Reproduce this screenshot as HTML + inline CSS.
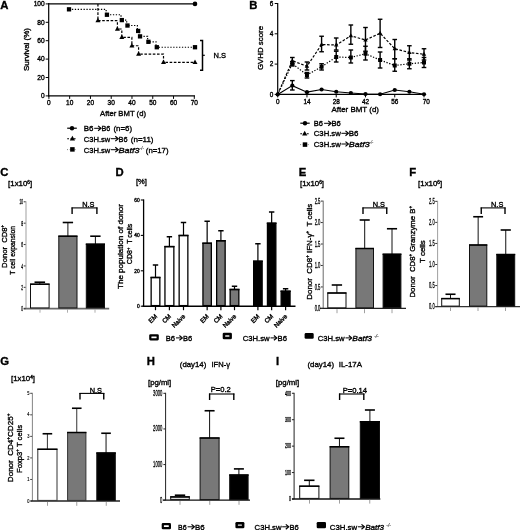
<!DOCTYPE html>
<html><head><meta charset="utf-8"><title>Figure</title>
<style>
html,body{margin:0;padding:0;background:#fff;}
body{width:520px;height:530px;overflow:hidden;font-family:"Liberation Sans",sans-serif;}
svg{display:block;filter:grayscale(1) blur(0.35px);}
svg text{font-family:"Liberation Sans",sans-serif;fill:#000;stroke:#000;stroke-width:0.35px;}
</style></head><body>
<svg width="520" height="530" viewBox="0 0 520 530">
<rect x="0" y="0" width="520" height="530" fill="#fff"/>
<text x="0.2" y="8.6" font-size="11.3" text-anchor="start" font-weight="bold" >A</text>
<line x1="48.7" y1="3" x2="48.7" y2="96.4" stroke="#000" stroke-width="1.2" stroke-linecap="butt"/>
<line x1="48.2" y1="95.9" x2="195" y2="95.9" stroke="#000" stroke-width="1.2" stroke-linecap="butt"/>
<line x1="45.7" y1="95.9" x2="48.7" y2="95.9" stroke="#000" stroke-width="1" stroke-linecap="butt"/>
<text x="44.7" y="98.25" font-size="6.6" text-anchor="end" >0</text>
<line x1="45.7" y1="77.5" x2="48.7" y2="77.5" stroke="#000" stroke-width="1" stroke-linecap="butt"/>
<text x="44.7" y="79.85" font-size="6.6" text-anchor="end" >20</text>
<line x1="45.7" y1="59.1" x2="48.7" y2="59.1" stroke="#000" stroke-width="1" stroke-linecap="butt"/>
<text x="44.7" y="61.45" font-size="6.6" text-anchor="end" >40</text>
<line x1="45.7" y1="40.7" x2="48.7" y2="40.7" stroke="#000" stroke-width="1" stroke-linecap="butt"/>
<text x="44.7" y="43.050000000000004" font-size="6.6" text-anchor="end" >60</text>
<line x1="45.7" y1="22.299999999999997" x2="48.7" y2="22.299999999999997" stroke="#000" stroke-width="1" stroke-linecap="butt"/>
<text x="44.7" y="24.65" font-size="6.6" text-anchor="end" >80</text>
<line x1="45.7" y1="3.9000000000000057" x2="48.7" y2="3.9000000000000057" stroke="#000" stroke-width="1" stroke-linecap="butt"/>
<text x="44.7" y="6.250000000000005" font-size="6.6" text-anchor="end" >100</text>
<line x1="48.9" y1="95.9" x2="48.9" y2="98.9" stroke="#000" stroke-width="1" stroke-linecap="butt"/>
<text x="48.9" y="105.10000000000001" font-size="6.5" text-anchor="middle" >0</text>
<line x1="69.67" y1="95.9" x2="69.67" y2="98.9" stroke="#000" stroke-width="1" stroke-linecap="butt"/>
<text x="69.67" y="105.10000000000001" font-size="6.5" text-anchor="middle" >10</text>
<line x1="90.44" y1="95.9" x2="90.44" y2="98.9" stroke="#000" stroke-width="1" stroke-linecap="butt"/>
<text x="90.44" y="105.10000000000001" font-size="6.5" text-anchor="middle" >20</text>
<line x1="111.21000000000001" y1="95.9" x2="111.21000000000001" y2="98.9" stroke="#000" stroke-width="1" stroke-linecap="butt"/>
<text x="111.21000000000001" y="105.10000000000001" font-size="6.5" text-anchor="middle" >30</text>
<line x1="131.98" y1="95.9" x2="131.98" y2="98.9" stroke="#000" stroke-width="1" stroke-linecap="butt"/>
<text x="131.98" y="105.10000000000001" font-size="6.5" text-anchor="middle" >40</text>
<line x1="152.75" y1="95.9" x2="152.75" y2="98.9" stroke="#000" stroke-width="1" stroke-linecap="butt"/>
<text x="152.75" y="105.10000000000001" font-size="6.5" text-anchor="middle" >50</text>
<line x1="173.52" y1="95.9" x2="173.52" y2="98.9" stroke="#000" stroke-width="1" stroke-linecap="butt"/>
<text x="173.52" y="105.10000000000001" font-size="6.5" text-anchor="middle" >60</text>
<line x1="194.29" y1="95.9" x2="194.29" y2="98.9" stroke="#000" stroke-width="1" stroke-linecap="butt"/>
<text x="194.29" y="105.10000000000001" font-size="6.5" text-anchor="middle" >70</text>
<text x="123" y="115.5" font-size="8" text-anchor="middle" textLength="46" lengthAdjust="spacingAndGlyphs" >After BMT (d)</text>
<text x="29" y="49.5" font-size="8" text-anchor="middle" transform="rotate(-90 29 49.5)" textLength="43" lengthAdjust="spacingAndGlyphs" >Survival (%)</text>
<line x1="48.7" y1="3.9000000000000057" x2="195" y2="3.9000000000000057" stroke="#000" stroke-width="1.2" stroke-linecap="butt"/>
<circle cx="195" cy="3.9000000000000057" r="2.3" fill="#000"/>
<polyline points="69.0215,9.328000000000003 106.141,9.328000000000003 106.141,14.756 121.0155,14.756 121.0155,20.092 126.67200000000001,20.092 126.67200000000001,25.519999999999996 137.3565,25.519999999999996 137.3565,30.948000000000008 139.24200000000002,30.948000000000008 139.24200000000002,36.376 147.622,36.376 147.622,41.80400000000001 156.002,41.80400000000001 156.002,47.232000000000006 195,47.232000000000006" fill="none" stroke="#000" stroke-width="1.2" stroke-dasharray="1.3 1.6"/>
<rect x="66.8715" y="7.178000000000003" width="4.3" height="4.3" fill="#000"/>
<rect x="104.791" y="12.606" width="4.3" height="4.3" fill="#000"/>
<rect x="119.6655" y="17.942" width="4.3" height="4.3" fill="#000"/>
<rect x="125.322" y="23.369999999999997" width="4.3" height="4.3" fill="#000"/>
<rect x="136.00650000000002" y="28.79800000000001" width="4.3" height="4.3" fill="#000"/>
<rect x="137.89200000000002" y="34.226" width="4.3" height="4.3" fill="#000"/>
<rect x="146.27200000000002" y="39.65400000000001" width="4.3" height="4.3" fill="#000"/>
<rect x="154.65200000000002" y="45.08200000000001" width="4.3" height="4.3" fill="#000"/>
<rect x="192.85" y="45.08200000000001" width="4.3" height="4.3" fill="#000"/>
<polyline points="97.9325,3.9000000000000057 97.9325,20.644000000000005 117.416,20.644000000000005 117.416,29.016000000000005 121.8155,29.016000000000005 121.8155,37.388000000000005 131.87150000000003,37.388000000000005 131.87150000000003,45.760000000000005 138.5755,45.760000000000005 138.5755,54.040000000000006 163.50600000000003,54.040000000000006 163.50600000000003,62.412000000000006 195,62.412000000000006" fill="none" stroke="#000" stroke-width="1.2" stroke-dasharray="2.6 1.6"/>
<polygon points="97.9325,17.844000000000005 95.4325,22.344000000000005 100.4325,22.344000000000005" fill="#000"/>
<polygon points="117.416,26.216000000000005 114.916,30.716000000000005 119.916,30.716000000000005" fill="#000"/>
<polygon points="121.8155,34.58800000000001 119.3155,39.08800000000001 124.3155,39.08800000000001" fill="#000"/>
<polygon points="131.87150000000003,42.96000000000001 129.37150000000003,47.46000000000001 134.37150000000003,47.46000000000001" fill="#000"/>
<polygon points="138.5755,51.24000000000001 136.0755,55.74000000000001 141.0755,55.74000000000001" fill="#000"/>
<polygon points="163.50600000000003,59.61200000000001 161.00600000000003,64.11200000000001 166.00600000000003,64.11200000000001" fill="#000"/>
<polygon points="195,59.61200000000001 192.5,64.11200000000001 197.5,64.11200000000001" fill="#000"/>
<polyline points="200,40.5 202.5,40.5 202.5,70.2 200,70.2" fill="none" stroke="#000" stroke-width="1.5"/>
<line x1="202.5" y1="55.3" x2="204.8" y2="55.3" stroke="#000" stroke-width="1.2" stroke-linecap="butt"/>
<text x="213.5" y="58" font-size="8" text-anchor="start" textLength="12.5" lengthAdjust="spacingAndGlyphs" >N.S</text>
<line x1="67.2" y1="128.2" x2="76.8" y2="128.2" stroke="#000" stroke-width="1.2" stroke-linecap="butt"/>
<circle cx="72" cy="128.2" r="2.2" fill="#000"/>
<line x1="67.2" y1="138.7" x2="76.8" y2="138.7" stroke="#000" stroke-width="1.1" stroke-dasharray="1.8 1.5" stroke-linecap="butt"/>
<polygon points="72.4,135.79999999999998 69.80000000000001,140.48 75.0,140.48" fill="#000"/>
<line x1="67.2" y1="149.6" x2="76.8" y2="149.6" stroke="#666" stroke-width="1" stroke-dasharray="0.8 1.7" stroke-linecap="butt"/>
<rect x="70.15" y="147.15" width="4.5" height="4.5" fill="#000"/>
<text x="83.8" y="131.2" font-size="8" text-anchor="start" textLength="9.7" lengthAdjust="spacingAndGlyphs" >B6</text>
<line x1="94.2" y1="128.29999999999998" x2="100.4" y2="128.29999999999998" stroke="#000" stroke-width="1.0" stroke-linecap="butt"/>
<polyline points="98.1,125.89999999999998 101,128.29999999999998 98.1,130.7" fill="none" stroke="#000" stroke-width="1.2" stroke-linejoin="miter"/>
<text x="101.5" y="131.2" font-size="8" text-anchor="start" textLength="8.8" lengthAdjust="spacingAndGlyphs" >B6</text>
<text x="113.5" y="131.2" font-size="8" text-anchor="start" textLength="18.5" lengthAdjust="spacingAndGlyphs" >(n=6)</text>
<text x="83.8" y="141.6" font-size="8" text-anchor="start" textLength="26.5" lengthAdjust="spacingAndGlyphs" >C3H.sw</text>
<line x1="111" y1="138.7" x2="117.60000000000001" y2="138.7" stroke="#000" stroke-width="1.0" stroke-linecap="butt"/>
<polyline points="115.3,136.29999999999998 118.2,138.7 115.3,141.1" fill="none" stroke="#000" stroke-width="1.2" stroke-linejoin="miter"/>
<text x="118.6" y="141.6" font-size="8" text-anchor="start" textLength="9.0" lengthAdjust="spacingAndGlyphs" >B6</text>
<text x="130.8" y="141.6" font-size="8" text-anchor="start" textLength="22.7" lengthAdjust="spacingAndGlyphs" >(n=11)</text>
<text x="83.8" y="152.6" font-size="8" text-anchor="start" textLength="26.5" lengthAdjust="spacingAndGlyphs" >C3H.sw</text>
<line x1="111" y1="149.7" x2="117.60000000000001" y2="149.7" stroke="#000" stroke-width="1.0" stroke-linecap="butt"/>
<polyline points="115.3,147.29999999999998 118.2,149.7 115.3,152.1" fill="none" stroke="#000" stroke-width="1.2" stroke-linejoin="miter"/>
<text x="118.6" y="152.6" font-size="8" text-anchor="start" font-style="italic" textLength="21.0" lengthAdjust="spacingAndGlyphs" >Batf3</text>
<text x="140" y="149.79999999999998" font-size="4.6" text-anchor="start" font-style="italic" textLength="3.8" lengthAdjust="spacingAndGlyphs" style="stroke-width:0.1px;fill:#222">-/-</text>
<text x="145.8" y="152.6" font-size="8" text-anchor="start" textLength="22.7" lengthAdjust="spacingAndGlyphs" >(n=17)</text>
<text x="249.3" y="8.6" font-size="11.3" text-anchor="start" font-weight="bold" >B</text>
<line x1="277.7" y1="3" x2="277.7" y2="94.9" stroke="#000" stroke-width="1.2" stroke-linecap="butt"/>
<line x1="277.2" y1="94.4" x2="425" y2="94.4" stroke="#000" stroke-width="1.2" stroke-linecap="butt"/>
<line x1="274.7" y1="94.4" x2="277.7" y2="94.4" stroke="#000" stroke-width="1" stroke-linecap="butt"/>
<text x="273.2" y="96.7" font-size="6.4" text-anchor="end" >0</text>
<line x1="274.7" y1="64.10000000000001" x2="277.7" y2="64.10000000000001" stroke="#000" stroke-width="1" stroke-linecap="butt"/>
<text x="273.2" y="66.4" font-size="6.4" text-anchor="end" >2</text>
<line x1="274.7" y1="33.800000000000004" x2="277.7" y2="33.800000000000004" stroke="#000" stroke-width="1" stroke-linecap="butt"/>
<text x="273.2" y="36.1" font-size="6.4" text-anchor="end" >4</text>
<line x1="274.7" y1="3.5" x2="277.7" y2="3.5" stroke="#000" stroke-width="1" stroke-linecap="butt"/>
<text x="273.2" y="5.8" font-size="6.4" text-anchor="end" >6</text>
<line x1="277.7" y1="94.4" x2="277.7" y2="97.4" stroke="#000" stroke-width="1" stroke-linecap="butt"/>
<text x="277.7" y="104.0" font-size="6.4" text-anchor="middle" >0</text>
<line x1="306.96" y1="94.4" x2="306.96" y2="97.4" stroke="#000" stroke-width="1" stroke-linecap="butt"/>
<text x="306.96" y="104.0" font-size="6.4" text-anchor="middle" >14</text>
<line x1="336.21999999999997" y1="94.4" x2="336.21999999999997" y2="97.4" stroke="#000" stroke-width="1" stroke-linecap="butt"/>
<text x="336.21999999999997" y="104.0" font-size="6.4" text-anchor="middle" >28</text>
<line x1="365.48" y1="94.4" x2="365.48" y2="97.4" stroke="#000" stroke-width="1" stroke-linecap="butt"/>
<text x="365.48" y="104.0" font-size="6.4" text-anchor="middle" >42</text>
<line x1="394.74" y1="94.4" x2="394.74" y2="97.4" stroke="#000" stroke-width="1" stroke-linecap="butt"/>
<text x="394.74" y="104.0" font-size="6.4" text-anchor="middle" >56</text>
<line x1="424.0" y1="94.4" x2="424.0" y2="97.4" stroke="#000" stroke-width="1" stroke-linecap="butt"/>
<text x="426.2" y="104.0" font-size="6.4" text-anchor="middle" >70</text>
<text x="355.2" y="111.5" font-size="8" text-anchor="middle" textLength="47.5" lengthAdjust="spacingAndGlyphs" >After BMT (d)</text>
<text x="262.5" y="48" font-size="8" text-anchor="middle" transform="rotate(-90 262.5 48)" textLength="44" lengthAdjust="spacingAndGlyphs" >GVHD score</text>
<polyline points="277.7,94.4 292.33,60.75 306.96,66.25 321.59,44.5 336.21999999999997,45 350.84999999999997,35.75 365.48,40 380.11,33.25 394.74,48.75 409.37,52.5 424.0,54.25" fill="none" stroke="#000" stroke-width="1.2" stroke-dasharray="2.6 1.6"/>
<line x1="292.33" y1="57.5" x2="292.33" y2="63.75" stroke="#000" stroke-width="1.4" stroke-linecap="butt"/>
<line x1="290.03" y1="57.5" x2="294.63" y2="57.5" stroke="#000" stroke-width="1.4" stroke-linecap="butt"/>
<line x1="290.03" y1="63.75" x2="294.63" y2="63.75" stroke="#000" stroke-width="1.4" stroke-linecap="butt"/>
<polygon points="292.33,58.25 290.13,62.21 294.53,62.21" fill="#000"/>
<line x1="306.96" y1="62" x2="306.96" y2="70" stroke="#000" stroke-width="1.4" stroke-linecap="butt"/>
<line x1="304.65999999999997" y1="62" x2="309.26" y2="62" stroke="#000" stroke-width="1.4" stroke-linecap="butt"/>
<line x1="304.65999999999997" y1="70" x2="309.26" y2="70" stroke="#000" stroke-width="1.4" stroke-linecap="butt"/>
<polygon points="306.96,63.75 304.76,67.71000000000001 309.15999999999997,67.71000000000001" fill="#000"/>
<line x1="321.59" y1="36.25" x2="321.59" y2="51.75" stroke="#000" stroke-width="1.4" stroke-linecap="butt"/>
<line x1="319.28999999999996" y1="36.25" x2="323.89" y2="36.25" stroke="#000" stroke-width="1.4" stroke-linecap="butt"/>
<line x1="319.28999999999996" y1="51.75" x2="323.89" y2="51.75" stroke="#000" stroke-width="1.4" stroke-linecap="butt"/>
<polygon points="321.59,42.0 319.39,45.96 323.78999999999996,45.96" fill="#000"/>
<line x1="336.21999999999997" y1="38" x2="336.21999999999997" y2="50" stroke="#000" stroke-width="1.4" stroke-linecap="butt"/>
<line x1="333.91999999999996" y1="38" x2="338.52" y2="38" stroke="#000" stroke-width="1.4" stroke-linecap="butt"/>
<line x1="333.91999999999996" y1="50" x2="338.52" y2="50" stroke="#000" stroke-width="1.4" stroke-linecap="butt"/>
<polygon points="336.21999999999997,42.5 334.02,46.46 338.41999999999996,46.46" fill="#000"/>
<line x1="350.84999999999997" y1="25" x2="350.84999999999997" y2="44.25" stroke="#000" stroke-width="1.4" stroke-linecap="butt"/>
<line x1="348.54999999999995" y1="25" x2="353.15" y2="25" stroke="#000" stroke-width="1.4" stroke-linecap="butt"/>
<line x1="348.54999999999995" y1="44.25" x2="353.15" y2="44.25" stroke="#000" stroke-width="1.4" stroke-linecap="butt"/>
<polygon points="350.84999999999997,33.25 348.65,37.21 353.04999999999995,37.21" fill="#000"/>
<line x1="365.48" y1="27.5" x2="365.48" y2="51.25" stroke="#000" stroke-width="1.4" stroke-linecap="butt"/>
<line x1="363.18" y1="27.5" x2="367.78000000000003" y2="27.5" stroke="#000" stroke-width="1.4" stroke-linecap="butt"/>
<line x1="363.18" y1="51.25" x2="367.78000000000003" y2="51.25" stroke="#000" stroke-width="1.4" stroke-linecap="butt"/>
<polygon points="365.48,37.5 363.28000000000003,41.46 367.68,41.46" fill="#000"/>
<line x1="380.11" y1="19.25" x2="380.11" y2="47.5" stroke="#000" stroke-width="1.4" stroke-linecap="butt"/>
<line x1="377.81" y1="19.25" x2="382.41" y2="19.25" stroke="#000" stroke-width="1.4" stroke-linecap="butt"/>
<line x1="377.81" y1="47.5" x2="382.41" y2="47.5" stroke="#000" stroke-width="1.4" stroke-linecap="butt"/>
<polygon points="380.11,30.750000000000004 377.91,34.71 382.31,34.71" fill="#000"/>
<line x1="394.74" y1="39.5" x2="394.74" y2="58.75" stroke="#000" stroke-width="1.4" stroke-linecap="butt"/>
<line x1="392.44" y1="39.5" x2="397.04" y2="39.5" stroke="#000" stroke-width="1.4" stroke-linecap="butt"/>
<line x1="392.44" y1="58.75" x2="397.04" y2="58.75" stroke="#000" stroke-width="1.4" stroke-linecap="butt"/>
<polygon points="394.74,46.25 392.54,50.21 396.94,50.21" fill="#000"/>
<line x1="409.37" y1="45.75" x2="409.37" y2="60" stroke="#000" stroke-width="1.4" stroke-linecap="butt"/>
<line x1="407.07" y1="45.75" x2="411.67" y2="45.75" stroke="#000" stroke-width="1.4" stroke-linecap="butt"/>
<line x1="407.07" y1="60" x2="411.67" y2="60" stroke="#000" stroke-width="1.4" stroke-linecap="butt"/>
<polygon points="409.37,50.0 407.17,53.96 411.57,53.96" fill="#000"/>
<line x1="424.0" y1="48.75" x2="424.0" y2="60" stroke="#000" stroke-width="1.4" stroke-linecap="butt"/>
<line x1="421.7" y1="48.75" x2="426.3" y2="48.75" stroke="#000" stroke-width="1.4" stroke-linecap="butt"/>
<line x1="421.7" y1="60" x2="426.3" y2="60" stroke="#000" stroke-width="1.4" stroke-linecap="butt"/>
<polygon points="424.0,51.75 421.8,55.71 426.2,55.71" fill="#000"/>
<polyline points="277.7,94.4 292.33,63.75 306.96,75 321.59,66.75 336.21999999999997,57 350.84999999999997,57.5 365.48,53.75 380.11,60 394.74,65.5 409.37,63.75 424.0,62.5" fill="none" stroke="#000" stroke-width="1.2" stroke-dasharray="1.3 1.6"/>
<line x1="292.33" y1="61.5" x2="292.33" y2="66" stroke="#000" stroke-width="1.4" stroke-linecap="butt"/>
<line x1="290.03" y1="61.5" x2="294.63" y2="61.5" stroke="#000" stroke-width="1.4" stroke-linecap="butt"/>
<line x1="290.03" y1="66" x2="294.63" y2="66" stroke="#000" stroke-width="1.4" stroke-linecap="butt"/>
<rect x="290.33" y="61.75" width="4" height="4" fill="#000"/>
<line x1="306.96" y1="72.5" x2="306.96" y2="78" stroke="#000" stroke-width="1.4" stroke-linecap="butt"/>
<line x1="304.65999999999997" y1="72.5" x2="309.26" y2="72.5" stroke="#000" stroke-width="1.4" stroke-linecap="butt"/>
<line x1="304.65999999999997" y1="78" x2="309.26" y2="78" stroke="#000" stroke-width="1.4" stroke-linecap="butt"/>
<rect x="304.96" y="73" width="4" height="4" fill="#000"/>
<line x1="321.59" y1="63.75" x2="321.59" y2="70" stroke="#000" stroke-width="1.4" stroke-linecap="butt"/>
<line x1="319.28999999999996" y1="63.75" x2="323.89" y2="63.75" stroke="#000" stroke-width="1.4" stroke-linecap="butt"/>
<line x1="319.28999999999996" y1="70" x2="323.89" y2="70" stroke="#000" stroke-width="1.4" stroke-linecap="butt"/>
<rect x="319.59" y="64.75" width="4" height="4" fill="#000"/>
<line x1="336.21999999999997" y1="51.25" x2="336.21999999999997" y2="62" stroke="#000" stroke-width="1.4" stroke-linecap="butt"/>
<line x1="333.91999999999996" y1="51.25" x2="338.52" y2="51.25" stroke="#000" stroke-width="1.4" stroke-linecap="butt"/>
<line x1="333.91999999999996" y1="62" x2="338.52" y2="62" stroke="#000" stroke-width="1.4" stroke-linecap="butt"/>
<rect x="334.21999999999997" y="55" width="4" height="4" fill="#000"/>
<line x1="350.84999999999997" y1="50" x2="350.84999999999997" y2="63" stroke="#000" stroke-width="1.4" stroke-linecap="butt"/>
<line x1="348.54999999999995" y1="50" x2="353.15" y2="50" stroke="#000" stroke-width="1.4" stroke-linecap="butt"/>
<line x1="348.54999999999995" y1="63" x2="353.15" y2="63" stroke="#000" stroke-width="1.4" stroke-linecap="butt"/>
<rect x="348.84999999999997" y="55.5" width="4" height="4" fill="#000"/>
<line x1="365.48" y1="46.25" x2="365.48" y2="60" stroke="#000" stroke-width="1.4" stroke-linecap="butt"/>
<line x1="363.18" y1="46.25" x2="367.78000000000003" y2="46.25" stroke="#000" stroke-width="1.4" stroke-linecap="butt"/>
<line x1="363.18" y1="60" x2="367.78000000000003" y2="60" stroke="#000" stroke-width="1.4" stroke-linecap="butt"/>
<rect x="363.48" y="51.75" width="4" height="4" fill="#000"/>
<line x1="380.11" y1="52" x2="380.11" y2="68" stroke="#000" stroke-width="1.4" stroke-linecap="butt"/>
<line x1="377.81" y1="52" x2="382.41" y2="52" stroke="#000" stroke-width="1.4" stroke-linecap="butt"/>
<line x1="377.81" y1="68" x2="382.41" y2="68" stroke="#000" stroke-width="1.4" stroke-linecap="butt"/>
<rect x="378.11" y="58" width="4" height="4" fill="#000"/>
<line x1="394.74" y1="58.75" x2="394.74" y2="71.25" stroke="#000" stroke-width="1.4" stroke-linecap="butt"/>
<line x1="392.44" y1="58.75" x2="397.04" y2="58.75" stroke="#000" stroke-width="1.4" stroke-linecap="butt"/>
<line x1="392.44" y1="71.25" x2="397.04" y2="71.25" stroke="#000" stroke-width="1.4" stroke-linecap="butt"/>
<rect x="392.74" y="63.5" width="4" height="4" fill="#000"/>
<line x1="409.37" y1="58.75" x2="409.37" y2="68.75" stroke="#000" stroke-width="1.4" stroke-linecap="butt"/>
<line x1="407.07" y1="58.75" x2="411.67" y2="58.75" stroke="#000" stroke-width="1.4" stroke-linecap="butt"/>
<line x1="407.07" y1="68.75" x2="411.67" y2="68.75" stroke="#000" stroke-width="1.4" stroke-linecap="butt"/>
<rect x="407.37" y="61.75" width="4" height="4" fill="#000"/>
<line x1="424.0" y1="57.5" x2="424.0" y2="67.5" stroke="#000" stroke-width="1.4" stroke-linecap="butt"/>
<line x1="421.7" y1="57.5" x2="426.3" y2="57.5" stroke="#000" stroke-width="1.4" stroke-linecap="butt"/>
<line x1="421.7" y1="67.5" x2="426.3" y2="67.5" stroke="#000" stroke-width="1.4" stroke-linecap="butt"/>
<rect x="422.0" y="60.5" width="4" height="4" fill="#000"/>
<polyline points="277.7,94.4 292.33,85.6 306.96,92.2 321.59,89.5 336.21999999999997,91.75 350.84999999999997,93 365.48,94 380.11,94.25 394.74,90 409.37,91.75 424.0,94.25" fill="none" stroke="#000" stroke-width="1.2"/>
<line x1="292.33" y1="80.6" x2="292.33" y2="90" stroke="#000" stroke-width="1.4" stroke-linecap="butt"/>
<line x1="290.03" y1="80.6" x2="294.63" y2="80.6" stroke="#000" stroke-width="1.4" stroke-linecap="butt"/>
<line x1="290.03" y1="90" x2="294.63" y2="90" stroke="#000" stroke-width="1.4" stroke-linecap="butt"/>
<circle cx="277.7" cy="94.4" r="2.1" fill="#000"/>
<circle cx="292.33" cy="85.6" r="2.1" fill="#000"/>
<circle cx="306.96" cy="92.2" r="2.1" fill="#000"/>
<circle cx="321.59" cy="89.5" r="2.1" fill="#000"/>
<circle cx="336.21999999999997" cy="91.75" r="2.1" fill="#000"/>
<circle cx="350.84999999999997" cy="93" r="2.1" fill="#000"/>
<circle cx="365.48" cy="94" r="2.1" fill="#000"/>
<circle cx="380.11" cy="94.25" r="2.1" fill="#000"/>
<circle cx="394.74" cy="90" r="2.1" fill="#000"/>
<circle cx="409.37" cy="91.75" r="2.1" fill="#000"/>
<circle cx="424.0" cy="94.25" r="2.1" fill="#000"/>
<line x1="300.3" y1="123.2" x2="309.7" y2="123.2" stroke="#000" stroke-width="1.2" stroke-linecap="butt"/>
<circle cx="305" cy="123.2" r="2.2" fill="#000"/>
<line x1="300.3" y1="133.7" x2="309.7" y2="133.7" stroke="#000" stroke-width="1.1" stroke-dasharray="1.8 1.5" stroke-linecap="butt"/>
<polygon points="304.7,130.79999999999998 302.09999999999997,135.48 307.3,135.48" fill="#000"/>
<line x1="300.3" y1="144.6" x2="309.7" y2="144.6" stroke="#666" stroke-width="1" stroke-dasharray="0.8 1.7" stroke-linecap="butt"/>
<rect x="302.75" y="142.35" width="4.5" height="4.5" fill="#000"/>
<text x="313.8" y="126.2" font-size="8" text-anchor="start" textLength="9.2" lengthAdjust="spacingAndGlyphs" >B6</text>
<line x1="324.1" y1="123.3" x2="330.5" y2="123.3" stroke="#000" stroke-width="1.0" stroke-linecap="butt"/>
<polyline points="328.20000000000005,120.89999999999999 331.1,123.3 328.20000000000005,125.7" fill="none" stroke="#000" stroke-width="1.2" stroke-linejoin="miter"/>
<text x="331.5" y="126.2" font-size="8" text-anchor="start" textLength="9.3" lengthAdjust="spacingAndGlyphs" >B6</text>
<text x="313.8" y="136.2" font-size="8" text-anchor="start" textLength="27.0" lengthAdjust="spacingAndGlyphs" >C3H.sw</text>
<line x1="341.4" y1="133.29999999999998" x2="347.79999999999995" y2="133.29999999999998" stroke="#000" stroke-width="1.0" stroke-linecap="butt"/>
<polyline points="345.5,130.89999999999998 348.4,133.29999999999998 345.5,135.7" fill="none" stroke="#000" stroke-width="1.2" stroke-linejoin="miter"/>
<text x="348.8" y="136.2" font-size="8" text-anchor="start" textLength="9.7" lengthAdjust="spacingAndGlyphs" >B6</text>
<text x="313.8" y="146.9" font-size="8" text-anchor="start" textLength="27.0" lengthAdjust="spacingAndGlyphs" >C3H.sw</text>
<line x1="341.4" y1="144.0" x2="347.79999999999995" y2="144.0" stroke="#000" stroke-width="1.0" stroke-linecap="butt"/>
<polyline points="345.5,141.6 348.4,144.0 345.5,146.4" fill="none" stroke="#000" stroke-width="1.2" stroke-linejoin="miter"/>
<text x="348.8" y="146.9" font-size="8" text-anchor="start" font-style="italic" textLength="20.8" lengthAdjust="spacingAndGlyphs" >Batf3</text>
<text x="369.8" y="144.1" font-size="4.6" text-anchor="start" font-style="italic" textLength="3.5" lengthAdjust="spacingAndGlyphs" style="stroke-width:0.1px;fill:#222">-/-</text>
<text x="0.2" y="175.7" font-size="11.3" text-anchor="start" font-weight="bold" >C</text>
<text x="8.1" y="186.3" font-size="7.6" text-anchor="start" textLength="24" lengthAdjust="spacingAndGlyphs" >[1x10<tspan font-size="4.5" dy="-2.5">6</tspan><tspan dy="2.5">]</tspan></text>
<line x1="26" y1="201.3" x2="26" y2="308.7" stroke="#a8a8a8" stroke-width="1.1" stroke-linecap="butt"/>
<line x1="23.7" y1="308.7" x2="109.2" y2="308.7" stroke="#6a6a6a" stroke-width="1.7" stroke-linecap="butt"/>
<line x1="23.7" y1="308.7" x2="25.6" y2="308.7" stroke="#333" stroke-width="1" stroke-linecap="butt"/>
<text x="23" y="311.3134" font-size="7.3" text-anchor="end" textLength="1.8" lengthAdjust="spacingAndGlyphs" style="fill:#000;stroke:#000;stroke-width:0.3px">0</text>
<line x1="23.7" y1="287.32" x2="25.6" y2="287.32" stroke="#333" stroke-width="1" stroke-linecap="butt"/>
<text x="23" y="289.9334" font-size="7.3" text-anchor="end" textLength="1.8" lengthAdjust="spacingAndGlyphs" style="fill:#000;stroke:#000;stroke-width:0.3px">2</text>
<line x1="23.7" y1="265.94" x2="25.6" y2="265.94" stroke="#333" stroke-width="1" stroke-linecap="butt"/>
<text x="23" y="268.5534" font-size="7.3" text-anchor="end" textLength="1.8" lengthAdjust="spacingAndGlyphs" style="fill:#000;stroke:#000;stroke-width:0.3px">4</text>
<line x1="23.7" y1="244.56" x2="25.6" y2="244.56" stroke="#333" stroke-width="1" stroke-linecap="butt"/>
<text x="23" y="247.17340000000002" font-size="7.3" text-anchor="end" textLength="1.8" lengthAdjust="spacingAndGlyphs" style="fill:#000;stroke:#000;stroke-width:0.3px">6</text>
<line x1="23.7" y1="223.18" x2="25.6" y2="223.18" stroke="#333" stroke-width="1" stroke-linecap="butt"/>
<text x="23" y="225.79340000000002" font-size="7.3" text-anchor="end" textLength="1.8" lengthAdjust="spacingAndGlyphs" style="fill:#000;stroke:#000;stroke-width:0.3px">8</text>
<line x1="23.7" y1="201.8" x2="25.6" y2="201.8" stroke="#333" stroke-width="1" stroke-linecap="butt"/>
<text x="23" y="204.41340000000002" font-size="7.3" text-anchor="end" textLength="3.6" lengthAdjust="spacingAndGlyphs" style="fill:#000;stroke:#000;stroke-width:0.3px">10</text>
<line x1="40" y1="309.5" x2="40" y2="312.7" stroke="#999" stroke-width="0.8" stroke-linecap="butt"/>
<line x1="67.5" y1="309.5" x2="67.5" y2="312.7" stroke="#999" stroke-width="0.8" stroke-linecap="butt"/>
<line x1="95" y1="309.5" x2="95" y2="312.7" stroke="#999" stroke-width="0.8" stroke-linecap="butt"/>
<line x1="39.8" y1="282.2" x2="39.8" y2="284.2" stroke="#111" stroke-width="1.0" stroke-linecap="butt"/>
<line x1="34.507999999999996" y1="282.2" x2="45.092" y2="282.2" stroke="#000" stroke-width="1.6" stroke-linecap="butt"/>
<rect x="30.5" y="284.2" width="18.6" height="23.69999999999999" fill="#fff" stroke="#111" stroke-width="1" rx="0"/>
<line x1="30" y1="284.2" x2="49.6" y2="284.2" stroke="#000" stroke-width="1.5" stroke-linecap="butt"/>
<line x1="67.9" y1="222.5" x2="67.9" y2="236.2" stroke="#111" stroke-width="1.0" stroke-linecap="butt"/>
<line x1="62.71600000000001" y1="222.5" x2="73.084" y2="222.5" stroke="#000" stroke-width="1.6" stroke-linecap="butt"/>
<rect x="58.8" y="236.2" width="18.200000000000003" height="71.69999999999999" fill="#787878" stroke="#111" stroke-width="1" rx="0"/>
<line x1="58.3" y1="236.2" x2="77.5" y2="236.2" stroke="#000" stroke-width="1.5" stroke-linecap="butt"/>
<line x1="95.4" y1="236.2" x2="95.4" y2="244.2" stroke="#111" stroke-width="1.0" stroke-linecap="butt"/>
<line x1="90.21600000000001" y1="236.2" x2="100.584" y2="236.2" stroke="#000" stroke-width="1.6" stroke-linecap="butt"/>
<rect x="86.3" y="244.2" width="18.200000000000003" height="63.69999999999999" fill="#000" stroke="#111" stroke-width="1" rx="0"/>
<line x1="85.8" y1="244.2" x2="105" y2="244.2" stroke="#000" stroke-width="1.5" stroke-linecap="butt"/>
<line x1="71.5" y1="207.9" x2="97.5" y2="207.9" stroke="#000" stroke-width="1.1" stroke-linecap="butt"/>
<line x1="72.1" y1="207.4" x2="72.1" y2="213.9" stroke="#000" stroke-width="1.4" stroke-linecap="butt"/>
<line x1="96.9" y1="207.4" x2="96.9" y2="213.9" stroke="#000" stroke-width="1.4" stroke-linecap="butt"/>
<text x="88.3" y="207.3" font-size="7.8" text-anchor="middle" textLength="12.3" lengthAdjust="spacingAndGlyphs" >N.S</text>
<text x="6.9" y="246.4" font-size="8" text-anchor="middle" transform="rotate(-90 6.9 246.4)" textLength="43" lengthAdjust="spacingAndGlyphs" >Donor&#160;&#160;CD8<tspan font-size="4.6" dy="-2.8">+</tspan></text>
<text x="15.4" y="250.4" font-size="8" text-anchor="middle" transform="rotate(-90 15.4 250.4)" textLength="48.7" lengthAdjust="spacingAndGlyphs" >T cell expansion</text>
<text x="115.4" y="175.7" font-size="11.3" text-anchor="start" font-weight="bold" >D</text>
<text x="136" y="184.2" font-size="7.5" text-anchor="start" textLength="10.9" lengthAdjust="spacingAndGlyphs" >[%]</text>
<line x1="143.6" y1="199.4" x2="143.6" y2="306.2" stroke="#000" stroke-width="1.3" stroke-linecap="butt"/>
<line x1="142.5" y1="306.2" x2="295.5" y2="306.2" stroke="#000" stroke-width="1.4" stroke-linecap="butt"/>
<line x1="140.79999999999998" y1="306.2" x2="143.6" y2="306.2" stroke="#000" stroke-width="1.1" stroke-linecap="butt"/>
<text x="139.6" y="307.9" font-size="4.8" text-anchor="end" >0</text>
<line x1="140.79999999999998" y1="270.8" x2="143.6" y2="270.8" stroke="#000" stroke-width="1.1" stroke-linecap="butt"/>
<text x="139.6" y="272.5" font-size="4.8" text-anchor="end" >20</text>
<line x1="140.79999999999998" y1="235.39999999999998" x2="143.6" y2="235.39999999999998" stroke="#000" stroke-width="1.1" stroke-linecap="butt"/>
<text x="139.6" y="237.09999999999997" font-size="4.8" text-anchor="end" >40</text>
<line x1="140.79999999999998" y1="200.0" x2="143.6" y2="200.0" stroke="#000" stroke-width="1.1" stroke-linecap="butt"/>
<text x="139.6" y="201.7" font-size="4.8" text-anchor="end" >60</text>
<line x1="155.5" y1="265" x2="155.5" y2="277.5" stroke="#000" stroke-width="1.2" stroke-linecap="butt"/>
<line x1="152.8" y1="265" x2="158.2" y2="265" stroke="#000" stroke-width="1.5" stroke-linecap="butt"/>
<rect x="151.15" y="277.5" width="8.699999999999989" height="28.099999999999966" fill="#fff" stroke="#000" stroke-width="1.3" rx="0"/>
<line x1="150.5" y1="277.5" x2="160.5" y2="277.5" stroke="#000" stroke-width="1.5" stroke-linecap="butt"/>
<line x1="155.5" y1="306.8" x2="155.5" y2="310.2" stroke="#000" stroke-width="1.2" stroke-linecap="butt"/>
<text x="157.7" y="316.7" font-size="6.3" text-anchor="end" transform="rotate(-45 157.7 316.7)" >EM</text>
<line x1="169.4" y1="236.75" x2="169.4" y2="246.6" stroke="#000" stroke-width="1.2" stroke-linecap="butt"/>
<line x1="166.70000000000002" y1="236.75" x2="172.1" y2="236.75" stroke="#000" stroke-width="1.5" stroke-linecap="butt"/>
<rect x="164.95000000000002" y="246.6" width="8.899999999999977" height="58.99999999999997" fill="#fff" stroke="#000" stroke-width="1.3" rx="0"/>
<line x1="164.3" y1="246.6" x2="174.5" y2="246.6" stroke="#000" stroke-width="1.5" stroke-linecap="butt"/>
<line x1="169.4" y1="306.8" x2="169.4" y2="310.2" stroke="#000" stroke-width="1.2" stroke-linecap="butt"/>
<text x="171.6" y="316.7" font-size="6.3" text-anchor="end" transform="rotate(-45 171.6 316.7)" >CM</text>
<line x1="183.5" y1="222.5" x2="183.5" y2="235.5" stroke="#000" stroke-width="1.2" stroke-linecap="butt"/>
<line x1="180.8" y1="222.5" x2="186.2" y2="222.5" stroke="#000" stroke-width="1.5" stroke-linecap="butt"/>
<rect x="179.15" y="235.5" width="8.699999999999989" height="70.09999999999997" fill="#fff" stroke="#000" stroke-width="1.3" rx="0"/>
<line x1="178.5" y1="235.5" x2="188.5" y2="235.5" stroke="#000" stroke-width="1.5" stroke-linecap="butt"/>
<line x1="183.5" y1="306.8" x2="183.5" y2="310.2" stroke="#000" stroke-width="1.2" stroke-linecap="butt"/>
<text x="185.7" y="316.7" font-size="6.3" text-anchor="end" transform="rotate(-45 185.7 316.7)" >Naive</text>
<line x1="207.15" y1="221.25" x2="207.15" y2="243.25" stroke="#000" stroke-width="1.2" stroke-linecap="butt"/>
<line x1="204.45000000000002" y1="221.25" x2="209.85" y2="221.25" stroke="#000" stroke-width="1.5" stroke-linecap="butt"/>
<rect x="202.95000000000002" y="243.25" width="8.399999999999977" height="62.349999999999966" fill="#787878" stroke="#000" stroke-width="1.3" rx="0"/>
<line x1="202.3" y1="243.25" x2="212" y2="243.25" stroke="#000" stroke-width="1.5" stroke-linecap="butt"/>
<line x1="207.15" y1="306.8" x2="207.15" y2="310.2" stroke="#000" stroke-width="1.2" stroke-linecap="butt"/>
<text x="209.35" y="316.7" font-size="6.3" text-anchor="end" transform="rotate(-45 209.35 316.7)" >EM</text>
<line x1="220.9" y1="230.75" x2="220.9" y2="240.75" stroke="#000" stroke-width="1.2" stroke-linecap="butt"/>
<line x1="218.20000000000002" y1="230.75" x2="223.6" y2="230.75" stroke="#000" stroke-width="1.5" stroke-linecap="butt"/>
<rect x="216.65" y="240.75" width="8.5" height="64.84999999999997" fill="#787878" stroke="#000" stroke-width="1.3" rx="0"/>
<line x1="216" y1="240.75" x2="225.8" y2="240.75" stroke="#000" stroke-width="1.5" stroke-linecap="butt"/>
<line x1="220.9" y1="306.8" x2="220.9" y2="310.2" stroke="#000" stroke-width="1.2" stroke-linecap="butt"/>
<text x="223.1" y="316.7" font-size="6.3" text-anchor="end" transform="rotate(-45 223.1 316.7)" >CM</text>
<line x1="234.5" y1="286.25" x2="234.5" y2="289.5" stroke="#000" stroke-width="1.2" stroke-linecap="butt"/>
<line x1="231.8" y1="286.25" x2="237.2" y2="286.25" stroke="#000" stroke-width="1.5" stroke-linecap="butt"/>
<rect x="230.15" y="289.5" width="8.699999999999989" height="16.099999999999966" fill="#787878" stroke="#000" stroke-width="1.3" rx="0"/>
<line x1="229.5" y1="289.5" x2="239.5" y2="289.5" stroke="#000" stroke-width="1.5" stroke-linecap="butt"/>
<line x1="234.5" y1="306.8" x2="234.5" y2="310.2" stroke="#000" stroke-width="1.2" stroke-linecap="butt"/>
<text x="236.7" y="316.7" font-size="6.3" text-anchor="end" transform="rotate(-45 236.7 316.7)" >Naive</text>
<line x1="257.9" y1="243.75" x2="257.9" y2="261.25" stroke="#000" stroke-width="1.2" stroke-linecap="butt"/>
<line x1="255.2" y1="243.75" x2="260.59999999999997" y2="243.75" stroke="#000" stroke-width="1.5" stroke-linecap="butt"/>
<rect x="253.65" y="261.25" width="8.500000000000028" height="44.349999999999966" fill="#000" stroke="#000" stroke-width="1.3" rx="0"/>
<line x1="253" y1="261.25" x2="262.8" y2="261.25" stroke="#000" stroke-width="1.5" stroke-linecap="butt"/>
<line x1="257.9" y1="306.8" x2="257.9" y2="310.2" stroke="#000" stroke-width="1.2" stroke-linecap="butt"/>
<text x="260.09999999999997" y="316.7" font-size="6.3" text-anchor="end" transform="rotate(-45 260.09999999999997 316.7)" >EM</text>
<line x1="271.65" y1="212" x2="271.65" y2="223.25" stroke="#000" stroke-width="1.2" stroke-linecap="butt"/>
<line x1="268.95" y1="212" x2="274.34999999999997" y2="212" stroke="#000" stroke-width="1.5" stroke-linecap="butt"/>
<rect x="267.45" y="223.25" width="8.400000000000034" height="82.34999999999997" fill="#000" stroke="#000" stroke-width="1.3" rx="0"/>
<line x1="266.8" y1="223.25" x2="276.5" y2="223.25" stroke="#000" stroke-width="1.5" stroke-linecap="butt"/>
<line x1="271.65" y1="306.8" x2="271.65" y2="310.2" stroke="#000" stroke-width="1.2" stroke-linecap="butt"/>
<text x="273.84999999999997" y="316.7" font-size="6.3" text-anchor="end" transform="rotate(-45 273.84999999999997 316.7)" >CM</text>
<line x1="285.6" y1="288.75" x2="285.6" y2="291.25" stroke="#000" stroke-width="1.2" stroke-linecap="butt"/>
<line x1="282.90000000000003" y1="288.75" x2="288.3" y2="288.75" stroke="#000" stroke-width="1.5" stroke-linecap="butt"/>
<rect x="281.15" y="291.25" width="8.900000000000034" height="14.349999999999966" fill="#000" stroke="#000" stroke-width="1.3" rx="0"/>
<line x1="280.5" y1="291.25" x2="290.7" y2="291.25" stroke="#000" stroke-width="1.5" stroke-linecap="butt"/>
<line x1="285.6" y1="306.8" x2="285.6" y2="310.2" stroke="#000" stroke-width="1.2" stroke-linecap="butt"/>
<text x="287.8" y="316.7" font-size="6.3" text-anchor="end" transform="rotate(-45 287.8 316.7)" >Naive</text>
<text x="123.2" y="246.5" font-size="8" text-anchor="middle" transform="rotate(-90 123.2 246.5)" textLength="85" lengthAdjust="spacingAndGlyphs" >The population of donor</text>
<text x="132.4" y="243.9" font-size="8" text-anchor="middle" transform="rotate(-90 132.4 243.9)" textLength="40.6" lengthAdjust="spacingAndGlyphs" >CD8<tspan font-size="4.6" dy="-2.8">+</tspan><tspan dy="2.8">&#160;&#160;T cells</tspan></text>
<rect x="149.2" y="334.2" width="9.6" height="6.2" rx="1.3" fill="#000"/>
<rect x="151.39999999999998" y="336.4" width="5.2" height="1.8" rx="0.3" fill="#fff"/>
<text x="165.8" y="340.8" font-size="8" text-anchor="start" textLength="9.3" lengthAdjust="spacingAndGlyphs" >B6</text>
<line x1="176" y1="337.90000000000003" x2="181.70000000000002" y2="337.90000000000003" stroke="#000" stroke-width="1.0" stroke-linecap="butt"/>
<polyline points="179.4,335.50000000000006 182.3,337.90000000000003 179.4,340.3" fill="none" stroke="#000" stroke-width="1.2" stroke-linejoin="miter"/>
<text x="183.1" y="340.8" font-size="8" text-anchor="start" textLength="9.2" lengthAdjust="spacingAndGlyphs" >B6</text>
<rect x="222.7" y="332.7" width="9.2" height="6.5" rx="1.3" fill="#000"/>
<rect x="225.2" y="335.2" width="4.2" height="1.5" rx="0.3" fill="#e8e8e8"/>
<text x="242.7" y="340.8" font-size="8" text-anchor="start" textLength="26.9" lengthAdjust="spacingAndGlyphs" >C3H.sw</text>
<line x1="270.5" y1="337.90000000000003" x2="276.2" y2="337.90000000000003" stroke="#000" stroke-width="1.0" stroke-linecap="butt"/>
<polyline points="273.90000000000003,335.50000000000006 276.8,337.90000000000003 273.90000000000003,340.3" fill="none" stroke="#000" stroke-width="1.2" stroke-linejoin="miter"/>
<text x="277.6" y="340.8" font-size="8" text-anchor="start" textLength="9.4" lengthAdjust="spacingAndGlyphs" >B6</text>
<rect x="304.6" y="333.1" width="9.1" height="5.7" rx="1.3" fill="#000"/>
<text x="317.7" y="340.8" font-size="8" text-anchor="start" textLength="26.9" lengthAdjust="spacingAndGlyphs" >C3H.sw</text>
<line x1="345.5" y1="337.90000000000003" x2="351.09999999999997" y2="337.90000000000003" stroke="#000" stroke-width="1.0" stroke-linecap="butt"/>
<polyline points="348.8,335.50000000000006 351.7,337.90000000000003 348.8,340.3" fill="none" stroke="#000" stroke-width="1.2" stroke-linejoin="miter"/>
<text x="352.3" y="340.8" font-size="8" text-anchor="start" font-style="italic" textLength="19.6" lengthAdjust="spacingAndGlyphs" >Batf3</text>
<text x="374.2" y="337.8" font-size="4.6" text-anchor="start" font-style="italic" textLength="4.5" lengthAdjust="spacingAndGlyphs" style="stroke-width:0.1px;fill:#222">-/-</text>
<text x="298.8" y="175.7" font-size="11.3" text-anchor="start" font-weight="bold" >E</text>
<text x="300" y="186.3" font-size="7.6" text-anchor="start" textLength="24" lengthAdjust="spacingAndGlyphs" >[1x10<tspan font-size="4.5" dy="-2.5">6</tspan><tspan dy="2.5">]</tspan></text>
<line x1="323.2" y1="200.6" x2="323.2" y2="308.4" stroke="#6a6a6a" stroke-width="1.0" stroke-linecap="butt"/>
<line x1="320" y1="308.4" x2="406" y2="308.4" stroke="#222" stroke-width="1.3" stroke-linecap="butt"/>
<line x1="320.8" y1="308.4" x2="322.8" y2="308.4" stroke="#333" stroke-width="1" stroke-linecap="butt"/>
<text x="320.4" y="311.2072" font-size="8.4" text-anchor="end" textLength="5.75" lengthAdjust="spacingAndGlyphs" style="fill:#000;stroke:#000;stroke-width:0.3px">0.0</text>
<line x1="320.8" y1="286.94" x2="322.8" y2="286.94" stroke="#333" stroke-width="1" stroke-linecap="butt"/>
<text x="320.4" y="289.7472" font-size="8.4" text-anchor="end" textLength="5.75" lengthAdjust="spacingAndGlyphs" style="fill:#000;stroke:#000;stroke-width:0.3px">0.5</text>
<line x1="320.8" y1="265.47999999999996" x2="322.8" y2="265.47999999999996" stroke="#333" stroke-width="1" stroke-linecap="butt"/>
<text x="320.4" y="268.2872" font-size="8.4" text-anchor="end" textLength="5.75" lengthAdjust="spacingAndGlyphs" style="fill:#000;stroke:#000;stroke-width:0.3px">1.0</text>
<line x1="320.8" y1="244.01999999999998" x2="322.8" y2="244.01999999999998" stroke="#333" stroke-width="1" stroke-linecap="butt"/>
<text x="320.4" y="246.8272" font-size="8.4" text-anchor="end" textLength="5.75" lengthAdjust="spacingAndGlyphs" style="fill:#000;stroke:#000;stroke-width:0.3px">1.5</text>
<line x1="320.8" y1="222.55999999999997" x2="322.8" y2="222.55999999999997" stroke="#333" stroke-width="1" stroke-linecap="butt"/>
<text x="320.4" y="225.3672" font-size="8.4" text-anchor="end" textLength="5.75" lengthAdjust="spacingAndGlyphs" style="fill:#000;stroke:#000;stroke-width:0.3px">2.0</text>
<line x1="320.8" y1="201.09999999999997" x2="322.8" y2="201.09999999999997" stroke="#333" stroke-width="1" stroke-linecap="butt"/>
<text x="320.4" y="203.9072" font-size="8.4" text-anchor="end" textLength="5.75" lengthAdjust="spacingAndGlyphs" style="fill:#000;stroke:#000;stroke-width:0.3px">2.5</text>
<line x1="337" y1="309.2" x2="337" y2="313.2" stroke="#888" stroke-width="0.8" stroke-linecap="butt"/>
<line x1="364.5" y1="309.2" x2="364.5" y2="313.2" stroke="#888" stroke-width="0.8" stroke-linecap="butt"/>
<line x1="392" y1="309.2" x2="392" y2="313.2" stroke="#888" stroke-width="0.8" stroke-linecap="butt"/>
<line x1="336.9" y1="285" x2="336.9" y2="293" stroke="#111" stroke-width="1.0" stroke-linecap="butt"/>
<line x1="331.716" y1="285" x2="342.08399999999995" y2="285" stroke="#000" stroke-width="1.6" stroke-linecap="butt"/>
<rect x="327.8" y="293" width="18.19999999999999" height="14.799999999999955" fill="#fff" stroke="#111" stroke-width="1" rx="0"/>
<line x1="327.3" y1="293" x2="346.5" y2="293" stroke="#000" stroke-width="1.5" stroke-linecap="butt"/>
<line x1="364.7" y1="220" x2="364.7" y2="248.5" stroke="#111" stroke-width="1.0" stroke-linecap="butt"/>
<line x1="359.678" y1="220" x2="369.722" y2="220" stroke="#000" stroke-width="1.6" stroke-linecap="butt"/>
<rect x="355.9" y="248.5" width="17.600000000000023" height="59.299999999999955" fill="#787878" stroke="#111" stroke-width="1" rx="0"/>
<line x1="355.4" y1="248.5" x2="374" y2="248.5" stroke="#000" stroke-width="1.5" stroke-linecap="butt"/>
<line x1="392.0" y1="228.75" x2="392.0" y2="254.25" stroke="#111" stroke-width="1.0" stroke-linecap="butt"/>
<line x1="386.92400000000004" y1="228.75" x2="397.07599999999996" y2="228.75" stroke="#000" stroke-width="1.6" stroke-linecap="butt"/>
<rect x="383.1" y="254.25" width="17.799999999999955" height="53.549999999999955" fill="#000" stroke="#111" stroke-width="1" rx="0"/>
<line x1="382.6" y1="254.25" x2="401.4" y2="254.25" stroke="#000" stroke-width="1.5" stroke-linecap="butt"/>
<line x1="362.4" y1="207.9" x2="387.35" y2="207.9" stroke="#000" stroke-width="1.1" stroke-linecap="butt"/>
<line x1="363" y1="207.4" x2="363" y2="213.9" stroke="#000" stroke-width="1.4" stroke-linecap="butt"/>
<line x1="386.75" y1="207.4" x2="386.75" y2="213.9" stroke="#000" stroke-width="1.4" stroke-linecap="butt"/>
<text x="378.8" y="207.3" font-size="7.8" text-anchor="middle" textLength="12.3" lengthAdjust="spacingAndGlyphs" >N.S</text>
<text x="311.6" y="251.7" font-size="8" text-anchor="middle" transform="rotate(-90 311.6 251.7)" textLength="96" lengthAdjust="spacingAndGlyphs" >Donor&#160;&#160;CD8<tspan font-size="4.6" dy="-2.8">+</tspan><tspan dy="2.8"> IFN-&#947;</tspan><tspan font-size="4.6" dy="-2.8">+</tspan><tspan dy="2.8">&#160;&#160;T cells</tspan></text>
<text x="409.3" y="175.7" font-size="11.3" text-anchor="start" font-weight="bold" >F</text>
<text x="418.1" y="186.3" font-size="7.6" text-anchor="start" textLength="24" lengthAdjust="spacingAndGlyphs" >[1x10<tspan font-size="4.5" dy="-2.5">6</tspan><tspan dy="2.5">]</tspan></text>
<line x1="437.6" y1="200.8" x2="437.6" y2="306.6" stroke="#a0a0a0" stroke-width="1.0" stroke-linecap="butt"/>
<line x1="435.4" y1="306.6" x2="520" y2="306.6" stroke="#333" stroke-width="1.2" stroke-linecap="butt"/>
<line x1="435.20000000000005" y1="306.6" x2="437.20000000000005" y2="306.6" stroke="#333" stroke-width="1" stroke-linecap="butt"/>
<text x="434.70000000000005" y="309.40720000000005" font-size="8.4" text-anchor="end" textLength="5.62" lengthAdjust="spacingAndGlyphs" style="fill:#000;stroke:#000;stroke-width:0.3px">0.0</text>
<line x1="435.20000000000005" y1="285.55" x2="437.20000000000005" y2="285.55" stroke="#333" stroke-width="1" stroke-linecap="butt"/>
<text x="434.70000000000005" y="288.35720000000003" font-size="8.4" text-anchor="end" textLength="5.62" lengthAdjust="spacingAndGlyphs" style="fill:#000;stroke:#000;stroke-width:0.3px">0.5</text>
<line x1="435.20000000000005" y1="264.5" x2="437.20000000000005" y2="264.5" stroke="#333" stroke-width="1" stroke-linecap="butt"/>
<text x="434.70000000000005" y="267.3072" font-size="8.4" text-anchor="end" textLength="5.62" lengthAdjust="spacingAndGlyphs" style="fill:#000;stroke:#000;stroke-width:0.3px">1.0</text>
<line x1="435.20000000000005" y1="243.45000000000002" x2="437.20000000000005" y2="243.45000000000002" stroke="#333" stroke-width="1" stroke-linecap="butt"/>
<text x="434.70000000000005" y="246.25720000000004" font-size="8.4" text-anchor="end" textLength="5.62" lengthAdjust="spacingAndGlyphs" style="fill:#000;stroke:#000;stroke-width:0.3px">1.5</text>
<line x1="435.20000000000005" y1="222.40000000000003" x2="437.20000000000005" y2="222.40000000000003" stroke="#333" stroke-width="1" stroke-linecap="butt"/>
<text x="434.70000000000005" y="225.20720000000006" font-size="8.4" text-anchor="end" textLength="5.62" lengthAdjust="spacingAndGlyphs" style="fill:#000;stroke:#000;stroke-width:0.3px">2.0</text>
<line x1="435.20000000000005" y1="201.35000000000002" x2="437.20000000000005" y2="201.35000000000002" stroke="#333" stroke-width="1" stroke-linecap="butt"/>
<text x="434.70000000000005" y="204.15720000000005" font-size="8.4" text-anchor="end" textLength="5.62" lengthAdjust="spacingAndGlyphs" style="fill:#000;stroke:#000;stroke-width:0.3px">2.5</text>
<line x1="450.5" y1="307.40000000000003" x2="450.5" y2="311.0" stroke="#888" stroke-width="0.8" stroke-linecap="butt"/>
<line x1="478" y1="307.40000000000003" x2="478" y2="311.0" stroke="#888" stroke-width="0.8" stroke-linecap="butt"/>
<line x1="505.5" y1="307.40000000000003" x2="505.5" y2="311.0" stroke="#888" stroke-width="0.8" stroke-linecap="butt"/>
<line x1="450.5" y1="294.25" x2="450.5" y2="298.6" stroke="#111" stroke-width="1.0" stroke-linecap="butt"/>
<line x1="445.478" y1="294.25" x2="455.522" y2="294.25" stroke="#000" stroke-width="1.6" stroke-linecap="butt"/>
<rect x="441.7" y="298.6" width="17.600000000000023" height="7.5" fill="#fff" stroke="#111" stroke-width="1" rx="0"/>
<line x1="441.2" y1="298.6" x2="459.8" y2="298.6" stroke="#000" stroke-width="1.5" stroke-linecap="butt"/>
<line x1="478.15" y1="216.75" x2="478.15" y2="245" stroke="#111" stroke-width="1.0" stroke-linecap="butt"/>
<line x1="473.20899999999995" y1="216.75" x2="483.091" y2="216.75" stroke="#000" stroke-width="1.6" stroke-linecap="butt"/>
<rect x="469.5" y="245" width="17.30000000000001" height="61.10000000000002" fill="#787878" stroke="#111" stroke-width="1" rx="0"/>
<line x1="469" y1="245" x2="487.3" y2="245" stroke="#000" stroke-width="1.5" stroke-linecap="butt"/>
<line x1="505.75" y1="230" x2="505.75" y2="254.5" stroke="#111" stroke-width="1.0" stroke-linecap="butt"/>
<line x1="500.647" y1="230" x2="510.853" y2="230" stroke="#000" stroke-width="1.6" stroke-linecap="butt"/>
<rect x="496.8" y="254.5" width="17.900000000000034" height="51.60000000000002" fill="#000" stroke="#111" stroke-width="1" rx="0"/>
<line x1="496.3" y1="254.5" x2="515.2" y2="254.5" stroke="#000" stroke-width="1.5" stroke-linecap="butt"/>
<line x1="480.65" y1="207.9" x2="505.6" y2="207.9" stroke="#000" stroke-width="1.1" stroke-linecap="butt"/>
<line x1="481.25" y1="207.4" x2="481.25" y2="213.9" stroke="#000" stroke-width="1.4" stroke-linecap="butt"/>
<line x1="505" y1="207.4" x2="505" y2="213.9" stroke="#000" stroke-width="1.4" stroke-linecap="butt"/>
<text x="497.2" y="207.3" font-size="7.8" text-anchor="middle" textLength="12.3" lengthAdjust="spacingAndGlyphs" >N.S</text>
<text x="415.3" y="251.7" font-size="8" text-anchor="middle" transform="rotate(-90 415.3 251.7)" textLength="91.7" lengthAdjust="spacingAndGlyphs" >Donor&#160;&#160;CD8<tspan font-size="4.6" dy="-2.8">+</tspan><tspan dy="2.8"> Granzyme B</tspan><tspan font-size="4.6" dy="-2.8">+</tspan></text>
<text x="425.5" y="251.6" font-size="8" text-anchor="middle" transform="rotate(-90 425.5 251.6)" textLength="22.7" lengthAdjust="spacingAndGlyphs" >T cells</text>
<text x="0.2" y="364.8" font-size="11.3" text-anchor="start" font-weight="bold" >G</text>
<text x="11" y="381.3" font-size="7.6" text-anchor="start" textLength="24" lengthAdjust="spacingAndGlyphs" >[1x10<tspan font-size="4.5" dy="-2.5">4</tspan><tspan dy="2.5">]</tspan></text>
<line x1="32.4" y1="392.8" x2="32.4" y2="501" stroke="#777" stroke-width="0.9" stroke-linecap="butt"/>
<line x1="30.6" y1="501" x2="120" y2="501" stroke="#222" stroke-width="1.3" stroke-linecap="butt"/>
<line x1="30.2" y1="501.0" x2="32.1" y2="501.0" stroke="#333" stroke-width="0.9" stroke-linecap="butt"/>
<text x="29.5" y="502.6" font-size="4.6" text-anchor="end" textLength="2.2" lengthAdjust="spacingAndGlyphs" style="stroke-width:0.15px">0</text>
<line x1="30.2" y1="479.46" x2="32.1" y2="479.46" stroke="#333" stroke-width="0.9" stroke-linecap="butt"/>
<text x="29.5" y="481.06" font-size="4.6" text-anchor="end" textLength="2.2" lengthAdjust="spacingAndGlyphs" style="stroke-width:0.15px">1</text>
<line x1="30.2" y1="457.92" x2="32.1" y2="457.92" stroke="#333" stroke-width="0.9" stroke-linecap="butt"/>
<text x="29.5" y="459.52000000000004" font-size="4.6" text-anchor="end" textLength="2.2" lengthAdjust="spacingAndGlyphs" style="stroke-width:0.15px">2</text>
<line x1="30.2" y1="436.38" x2="32.1" y2="436.38" stroke="#333" stroke-width="0.9" stroke-linecap="butt"/>
<text x="29.5" y="437.98" font-size="4.6" text-anchor="end" textLength="2.2" lengthAdjust="spacingAndGlyphs" style="stroke-width:0.15px">3</text>
<line x1="30.2" y1="414.84000000000003" x2="32.1" y2="414.84000000000003" stroke="#333" stroke-width="0.9" stroke-linecap="butt"/>
<text x="29.5" y="416.44000000000005" font-size="4.6" text-anchor="end" textLength="2.2" lengthAdjust="spacingAndGlyphs" style="stroke-width:0.15px">4</text>
<line x1="30.2" y1="393.3" x2="32.1" y2="393.3" stroke="#333" stroke-width="0.9" stroke-linecap="butt"/>
<text x="29.5" y="394.90000000000003" font-size="4.6" text-anchor="end" textLength="2.2" lengthAdjust="spacingAndGlyphs" style="stroke-width:0.15px">5</text>
<line x1="47.5" y1="501.8" x2="47.5" y2="505.8" stroke="#888" stroke-width="0.8" stroke-linecap="butt"/>
<line x1="76.75" y1="501.8" x2="76.75" y2="505.8" stroke="#888" stroke-width="0.8" stroke-linecap="butt"/>
<line x1="106.25" y1="501.8" x2="106.25" y2="505.8" stroke="#888" stroke-width="0.8" stroke-linecap="butt"/>
<line x1="47.4" y1="433.75" x2="47.4" y2="449.25" stroke="#333" stroke-width="1.0" stroke-linecap="butt"/>
<line x1="42.6" y1="433.75" x2="52.199999999999996" y2="433.75" stroke="#000" stroke-width="1.6" stroke-linecap="butt"/>
<rect x="37.8" y="449.25" width="19.200000000000003" height="51.14999999999998" fill="#fff" stroke="#333" stroke-width="1" rx="0"/>
<line x1="37.3" y1="449.25" x2="57.5" y2="449.25" stroke="#000" stroke-width="1.5" stroke-linecap="butt"/>
<line x1="76.75" y1="408.25" x2="76.75" y2="432.5" stroke="#333" stroke-width="1.0" stroke-linecap="butt"/>
<line x1="71.95" y1="408.25" x2="81.55" y2="408.25" stroke="#000" stroke-width="1.6" stroke-linecap="butt"/>
<rect x="67.6" y="432.5" width="18.30000000000001" height="67.89999999999998" fill="#787878" stroke="#333" stroke-width="1" rx="0"/>
<line x1="67.1" y1="432.5" x2="86.4" y2="432.5" stroke="#000" stroke-width="1.5" stroke-linecap="butt"/>
<line x1="106.05" y1="433.25" x2="106.05" y2="453" stroke="#111" stroke-width="1.0" stroke-linecap="butt"/>
<line x1="101.25" y1="433.25" x2="110.85" y2="433.25" stroke="#000" stroke-width="1.6" stroke-linecap="butt"/>
<rect x="96.8" y="453" width="18.5" height="47.39999999999998" fill="#000" stroke="#111" stroke-width="1" rx="0"/>
<line x1="96.3" y1="453" x2="115.8" y2="453" stroke="#000" stroke-width="1.5" stroke-linecap="butt"/>
<line x1="79.4" y1="393.4" x2="104.35" y2="393.4" stroke="#000" stroke-width="1.1" stroke-linecap="butt"/>
<line x1="80" y1="392.9" x2="80" y2="399.4" stroke="#000" stroke-width="1.4" stroke-linecap="butt"/>
<line x1="103.75" y1="392.9" x2="103.75" y2="399.4" stroke="#000" stroke-width="1.4" stroke-linecap="butt"/>
<text x="95.8" y="392.79999999999995" font-size="7.8" text-anchor="middle" textLength="12.3" lengthAdjust="spacingAndGlyphs" >N.S</text>
<text x="13" y="447.9" font-size="8" text-anchor="middle" transform="rotate(-90 13 447.9)" textLength="68.5" lengthAdjust="spacingAndGlyphs" >Donor&#160;&#160;CD4<tspan font-size="4.6" dy="-2.8">+</tspan><tspan dy="2.8">CD25</tspan><tspan font-size="4.6" dy="-2.8">+</tspan></text>
<text x="22" y="449" font-size="8" text-anchor="middle" transform="rotate(-90 22 449)" textLength="48" lengthAdjust="spacingAndGlyphs" >Foxp3<tspan font-size="4.6" dy="-2.8">+</tspan><tspan dy="2.8"> T cells</tspan></text>
<text x="146.7" y="364.8" font-size="11.3" text-anchor="start" font-weight="bold" >H</text>
<text x="179.8" y="366.8" font-size="8" text-anchor="start" textLength="26.5" lengthAdjust="spacingAndGlyphs" >(day14)</text>
<text x="211.5" y="366.8" font-size="8" text-anchor="start" textLength="18.5" lengthAdjust="spacingAndGlyphs" >IFN-&#947;</text>
<text x="148" y="385" font-size="7.5" text-anchor="start" textLength="23.2" lengthAdjust="spacingAndGlyphs" >[pg/ml]</text>
<line x1="165.6" y1="392.8" x2="165.6" y2="500.2" stroke="#222" stroke-width="1.0" stroke-linecap="butt"/>
<line x1="163" y1="500.2" x2="250" y2="500.2" stroke="#111" stroke-width="1.3" stroke-linecap="butt"/>
<line x1="163.4" y1="500.2" x2="165.6" y2="500.2" stroke="#222" stroke-width="1" stroke-linecap="butt"/>
<text x="162.29999999999998" y="502.73560000000003" font-size="8.2" text-anchor="end" textLength="2.3" lengthAdjust="spacingAndGlyphs" style="fill:#000;stroke:#000;stroke-width:0.3px">0</text>
<line x1="163.4" y1="464.57" x2="165.6" y2="464.57" stroke="#222" stroke-width="1" stroke-linecap="butt"/>
<text x="162.29999999999998" y="467.10560000000004" font-size="8.2" text-anchor="end" textLength="9.2" lengthAdjust="spacingAndGlyphs" style="fill:#000;stroke:#000;stroke-width:0.3px">1000</text>
<line x1="163.4" y1="428.94" x2="165.6" y2="428.94" stroke="#222" stroke-width="1" stroke-linecap="butt"/>
<text x="162.29999999999998" y="431.47560000000004" font-size="8.2" text-anchor="end" textLength="9.2" lengthAdjust="spacingAndGlyphs" style="fill:#000;stroke:#000;stroke-width:0.3px">2000</text>
<line x1="163.4" y1="393.30999999999995" x2="165.6" y2="393.30999999999995" stroke="#222" stroke-width="1" stroke-linecap="butt"/>
<text x="162.29999999999998" y="395.8456" font-size="8.2" text-anchor="end" textLength="9.2" lengthAdjust="spacingAndGlyphs" style="fill:#000;stroke:#000;stroke-width:0.3px">3000</text>
<line x1="180" y1="501.0" x2="180" y2="504.8" stroke="#888" stroke-width="0.8" stroke-linecap="butt"/>
<line x1="209.75" y1="501.0" x2="209.75" y2="504.8" stroke="#888" stroke-width="0.8" stroke-linecap="butt"/>
<line x1="239" y1="501.0" x2="239" y2="504.8" stroke="#888" stroke-width="0.8" stroke-linecap="butt"/>
<line x1="180.0" y1="495.2" x2="180.0" y2="496.9" stroke="#111" stroke-width="1.0" stroke-linecap="butt"/>
<line x1="174.8" y1="495.2" x2="185.2" y2="495.2" stroke="#000" stroke-width="1.6" stroke-linecap="butt"/>
<rect x="170.7" y="496.9" width="18.600000000000023" height="2.6999999999999886" fill="#ddd" stroke="#111" stroke-width="1" rx="0"/>
<line x1="170.2" y1="496.9" x2="189.8" y2="496.9" stroke="#000" stroke-width="1.5" stroke-linecap="butt"/>
<line x1="209.6" y1="410.75" x2="209.6" y2="438" stroke="#111" stroke-width="1.0" stroke-linecap="butt"/>
<line x1="204.6" y1="410.75" x2="214.6" y2="410.75" stroke="#000" stroke-width="1.6" stroke-linecap="butt"/>
<rect x="200.1" y="438" width="19.0" height="61.599999999999966" fill="#787878" stroke="#111" stroke-width="1" rx="0"/>
<line x1="199.6" y1="438" x2="219.6" y2="438" stroke="#000" stroke-width="1.5" stroke-linecap="butt"/>
<line x1="238.89999999999998" y1="468.9" x2="238.89999999999998" y2="475" stroke="#111" stroke-width="1.0" stroke-linecap="butt"/>
<line x1="233.89999999999998" y1="468.9" x2="243.89999999999998" y2="468.9" stroke="#000" stroke-width="1.6" stroke-linecap="butt"/>
<rect x="229.7" y="475" width="18.400000000000006" height="24.599999999999966" fill="#000" stroke="#111" stroke-width="1" rx="0"/>
<line x1="229.2" y1="475" x2="248.6" y2="475" stroke="#000" stroke-width="1.5" stroke-linecap="butt"/>
<line x1="209.0" y1="394" x2="234.4" y2="394" stroke="#000" stroke-width="1.1" stroke-linecap="butt"/>
<line x1="209.6" y1="393.5" x2="209.6" y2="400" stroke="#000" stroke-width="1.4" stroke-linecap="butt"/>
<line x1="233.8" y1="393.5" x2="233.8" y2="400" stroke="#000" stroke-width="1.4" stroke-linecap="butt"/>
<text x="220.8" y="392.0" font-size="7.6" text-anchor="middle" textLength="20" lengthAdjust="spacingAndGlyphs" >P=0.2</text>
<text x="275.9" y="364.8" font-size="11.3" text-anchor="start" font-weight="bold" >I</text>
<text x="307.5" y="366.8" font-size="8" text-anchor="start" textLength="26.5" lengthAdjust="spacingAndGlyphs" >(day14)</text>
<text x="338.8" y="366.8" font-size="8" text-anchor="start" textLength="23.2" lengthAdjust="spacingAndGlyphs" >IL-17A</text>
<text x="275.8" y="385" font-size="7.5" text-anchor="start" textLength="23.4" lengthAdjust="spacingAndGlyphs" >[pg/ml]</text>
<line x1="294.1" y1="392.8" x2="294.1" y2="499" stroke="#222" stroke-width="1.0" stroke-linecap="butt"/>
<line x1="292" y1="499" x2="380.3" y2="499" stroke="#111" stroke-width="1.3" stroke-linecap="butt"/>
<line x1="291.90000000000003" y1="499.0" x2="294.1" y2="499.0" stroke="#222" stroke-width="1" stroke-linecap="butt"/>
<text x="291.0" y="501.2912" font-size="6.4" text-anchor="end" textLength="2.03" lengthAdjust="spacingAndGlyphs" style="fill:#000;stroke:#000;stroke-width:0.3px">0</text>
<line x1="291.90000000000003" y1="472.57" x2="294.1" y2="472.57" stroke="#222" stroke-width="1" stroke-linecap="butt"/>
<text x="291.0" y="474.8612" font-size="6.4" text-anchor="end" textLength="6.09" lengthAdjust="spacingAndGlyphs" style="fill:#000;stroke:#000;stroke-width:0.3px">100</text>
<line x1="291.90000000000003" y1="446.14" x2="294.1" y2="446.14" stroke="#222" stroke-width="1" stroke-linecap="butt"/>
<text x="291.0" y="448.4312" font-size="6.4" text-anchor="end" textLength="6.09" lengthAdjust="spacingAndGlyphs" style="fill:#000;stroke:#000;stroke-width:0.3px">200</text>
<line x1="291.90000000000003" y1="419.71000000000004" x2="294.1" y2="419.71000000000004" stroke="#222" stroke-width="1" stroke-linecap="butt"/>
<text x="291.0" y="422.00120000000004" font-size="6.4" text-anchor="end" textLength="6.09" lengthAdjust="spacingAndGlyphs" style="fill:#000;stroke:#000;stroke-width:0.3px">300</text>
<line x1="291.90000000000003" y1="393.28" x2="294.1" y2="393.28" stroke="#222" stroke-width="1" stroke-linecap="butt"/>
<text x="291.0" y="395.5712" font-size="6.4" text-anchor="end" textLength="6.09" lengthAdjust="spacingAndGlyphs" style="fill:#000;stroke:#000;stroke-width:0.3px">400</text>
<line x1="309.5" y1="499.8" x2="309.5" y2="503.6" stroke="#888" stroke-width="0.8" stroke-linecap="butt"/>
<line x1="339.5" y1="499.8" x2="339.5" y2="503.6" stroke="#888" stroke-width="0.8" stroke-linecap="butt"/>
<line x1="369.75" y1="499.8" x2="369.75" y2="503.6" stroke="#888" stroke-width="0.8" stroke-linecap="butt"/>
<line x1="309.29999999999995" y1="480.3" x2="309.29999999999995" y2="486.2" stroke="#111" stroke-width="1.0" stroke-linecap="butt"/>
<line x1="304.09999999999997" y1="480.3" x2="314.49999999999994" y2="480.3" stroke="#000" stroke-width="1.6" stroke-linecap="butt"/>
<rect x="299.7" y="486.2" width="19.19999999999999" height="12.199999999999989" fill="#fff" stroke="#111" stroke-width="1" rx="0"/>
<line x1="299.2" y1="486.2" x2="319.4" y2="486.2" stroke="#000" stroke-width="1.5" stroke-linecap="butt"/>
<line x1="339.45000000000005" y1="438.25" x2="339.45000000000005" y2="446.75" stroke="#111" stroke-width="1.0" stroke-linecap="butt"/>
<line x1="334.45000000000005" y1="438.25" x2="344.45000000000005" y2="438.25" stroke="#000" stroke-width="1.6" stroke-linecap="butt"/>
<rect x="330.1" y="446.75" width="18.69999999999999" height="51.64999999999998" fill="#787878" stroke="#111" stroke-width="1" rx="0"/>
<line x1="329.6" y1="446.75" x2="349.3" y2="446.75" stroke="#000" stroke-width="1.5" stroke-linecap="butt"/>
<line x1="369.9" y1="410" x2="369.9" y2="421.75" stroke="#111" stroke-width="1.0" stroke-linecap="butt"/>
<line x1="364.9" y1="410" x2="374.9" y2="410" stroke="#000" stroke-width="1.6" stroke-linecap="butt"/>
<rect x="360.3" y="421.75" width="19.19999999999999" height="76.64999999999998" fill="#000" stroke="#111" stroke-width="1" rx="0"/>
<line x1="359.8" y1="421.75" x2="380" y2="421.75" stroke="#000" stroke-width="1.5" stroke-linecap="butt"/>
<line x1="339.0" y1="394" x2="364.40000000000003" y2="394" stroke="#000" stroke-width="1.1" stroke-linecap="butt"/>
<line x1="339.6" y1="393.5" x2="339.6" y2="400" stroke="#000" stroke-width="1.4" stroke-linecap="butt"/>
<line x1="363.8" y1="393.5" x2="363.8" y2="400" stroke="#000" stroke-width="1.4" stroke-linecap="butt"/>
<text x="354.9" y="392.8" font-size="7.6" text-anchor="middle" textLength="24.4" lengthAdjust="spacingAndGlyphs" >P=0.14</text>
<rect x="161.7" y="523.1" width="9.3" height="6.1" rx="1.3" fill="#000"/>
<rect x="163.89999999999998" y="525.3000000000001" width="4.9" height="1.7" rx="0.3" fill="#fff"/>
<text x="178.1" y="529.7" font-size="8" text-anchor="start" textLength="8.6" lengthAdjust="spacingAndGlyphs" >B6</text>
<line x1="187.6" y1="526.8000000000001" x2="193.8" y2="526.8000000000001" stroke="#000" stroke-width="1.0" stroke-linecap="butt"/>
<polyline points="191.5,524.4000000000001 194.4,526.8000000000001 191.5,529.2" fill="none" stroke="#000" stroke-width="1.2" stroke-linejoin="miter"/>
<text x="195" y="529.7" font-size="8" text-anchor="start" textLength="9.6" lengthAdjust="spacingAndGlyphs" >B6</text>
<rect x="235.4" y="521.9" width="9.0" height="6.4" rx="1.3" fill="#000"/>
<rect x="237.9" y="524.4" width="4.0" height="1.4" rx="0.3" fill="#e8e8e8"/>
<text x="254.6" y="529.7" font-size="8" text-anchor="start" textLength="26.9" lengthAdjust="spacingAndGlyphs" >C3H.sw</text>
<line x1="282.2" y1="526.8000000000001" x2="288.09999999999997" y2="526.8000000000001" stroke="#000" stroke-width="1.0" stroke-linecap="butt"/>
<polyline points="285.8,524.4000000000001 288.7,526.8000000000001 285.8,529.2" fill="none" stroke="#000" stroke-width="1.2" stroke-linejoin="miter"/>
<text x="289.6" y="529.7" font-size="8" text-anchor="start" textLength="9.2" lengthAdjust="spacingAndGlyphs" >B6</text>
<rect x="316.7" y="521.9" width="9.3" height="6.4" rx="1.3" fill="#000"/>
<text x="329.8" y="529.7" font-size="8" text-anchor="start" textLength="27.3" lengthAdjust="spacingAndGlyphs" >C3H.sw</text>
<line x1="358" y1="526.8000000000001" x2="363.79999999999995" y2="526.8000000000001" stroke="#000" stroke-width="1.0" stroke-linecap="butt"/>
<polyline points="361.5,524.4000000000001 364.4,526.8000000000001 361.5,529.2" fill="none" stroke="#000" stroke-width="1.2" stroke-linejoin="miter"/>
<text x="365.2" y="529.7" font-size="8" text-anchor="start" font-style="italic" textLength="18.8" lengthAdjust="spacingAndGlyphs" >Batf3</text>
<text x="386.3" y="526.7" font-size="4.6" text-anchor="start" font-style="italic" textLength="4.5" lengthAdjust="spacingAndGlyphs" style="stroke-width:0.1px;fill:#222">-/-</text>
</svg>
</body></html>
